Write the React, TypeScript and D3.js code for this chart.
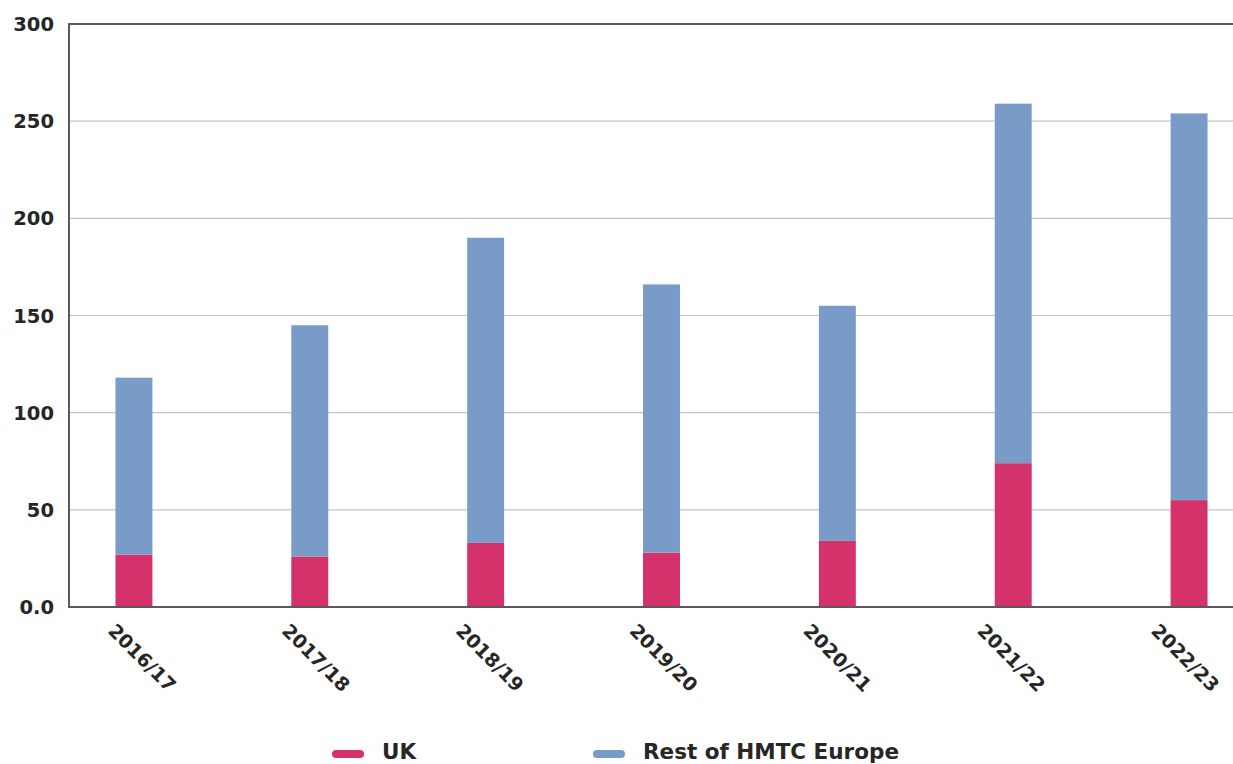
import React, { useEffect, useRef } from "react";
import * as d3 from "d3";

const years = ["2016/17", "2017/18", "2018/19", "2019/20", "2020/21", "2021/22", "2022/23"];
const ukValues = [27, 26, 33, 28, 34, 74, 55];
const restValues = [91, 119, 157, 138, 121, 185, 199];
const yTicks = [0, 50, 100, 150, 200, 250, 300];
const seriesNames = ["UK", "Rest of HMTC Europe"];
const seriesColors = ["#D5316B", "#799BC7"];

const W = 1233;
const H = 764;
const FONT = "'DejaVu Sans', sans-serif";

export default function App() {
  const ref = useRef<SVGSVGElement | null>(null);

  useEffect(() => {
    const svg = d3.select(ref.current);
    svg.selectAll("*").remove();

    const left = 69;
    const top = 24;
    const bottom = 607;

    const x = d3
      .scaleBand<string>()
      .domain(years)
      .range([46, 1277])
      .paddingInner(0.79)
      .paddingOuter(0.395);
    // category labels sit on a slightly tighter pitch than the bars
    const xLabel = x.copy().range([46, 1263]);
    const y = d3.scaleLinear().domain([0, 300]).range([bottom, top]);

    const rows = years.map((yr, i) => ({ year: yr, uk: ukValues[i], rest: restValues[i] }));
    const stacked = d3.stack<any>().keys(["uk", "rest"])(rows);

    // gridlines
    svg
      .append("g")
      .selectAll("line")
      .data(yTicks.filter((t) => t !== 0 && t !== 300))
      .join("line")
      .attr("x1", left)
      .attr("x2", W)
      .attr("y1", (d) => y(d))
      .attr("y2", (d) => y(d))
      .attr("stroke", "#c4c4c4")
      .attr("stroke-width", 1.2);

    // stacked bars
    svg
      .append("g")
      .selectAll("g")
      .data(stacked)
      .join("g")
      .attr("fill", (_d, i) => seriesColors[i])
      .selectAll("rect")
      .data((d) => d)
      .join("rect")
      .attr("x", (d: any) => x(d.data.year)!)
      .attr("width", x.bandwidth())
      .attr("y", (d) => y(d[1]))
      .attr("height", (d) => y(d[0]) - y(d[1]));

    // frame lines: top, bottom, left
    const frame = svg.append("g").attr("stroke", "#5a5a5a").attr("stroke-width", 2);
    frame.append("line").attr("x1", left).attr("x2", W).attr("y1", y(300)).attr("y2", y(300));
    frame.append("line").attr("x1", left).attr("x2", W).attr("y1", y(0)).attr("y2", y(0));
    frame.append("line").attr("x1", left).attr("x2", left).attr("y1", y(300) - 1).attr("y2", y(0) + 1);

    // y tick labels
    svg
      .append("g")
      .selectAll("text")
      .data(yTicks)
      .join("text")
      .attr("x", 54)
      .attr("y", (d) => y(d))
      .attr("dy", "0.36em")
      .attr("text-anchor", "end")
      .attr("font-family", FONT)
      .attr("font-weight", "bold")
      .attr("font-size", 19.5)
      .attr("fill", "#262626")
      .text((d) => (d === 0 ? "0.0" : String(d)));

    // x tick labels, rotated
    svg
      .append("g")
      .selectAll("text")
      .data(years)
      .join("text")
      .attr(
        "transform",
        (d) => `translate(${xLabel(d)! + xLabel.bandwidth() / 2 - 26},${bottom + 25}) rotate(45)`
      )
      .attr("text-anchor", "start")
      .attr("font-family", FONT)
      .attr("font-weight", "bold")
      .attr("font-size", 19)
      .attr("fill", "#262626")
      .text((d) => d);

    // legend
    const legendX = [332, 593];
    const lg = svg
      .append("g")
      .selectAll("g")
      .data(seriesNames)
      .join("g")
      .attr("transform", (_d, i) => `translate(${legendX[i]},0)`);
    lg.append("rect")
      .attr("x", 0)
      .attr("y", 750)
      .attr("width", 32)
      .attr("height", 8)
      .attr("rx", 4)
      .attr("fill", (_d, i) => seriesColors[i]);
    lg.append("text")
      .attr("x", 50)
      .attr("y", 759)
      .attr("font-family", FONT)
      .attr("font-weight", "bold")
      .attr("font-size", 21.5)
      .attr("fill", "#262626")
      .text((d) => d);
  }, []);

  return (
    <svg
      ref={ref}
      width={W}
      height={H}
      style={{ position: "absolute", left: 0, top: 0, background: "#ffffff" }}
    />
  );
}
